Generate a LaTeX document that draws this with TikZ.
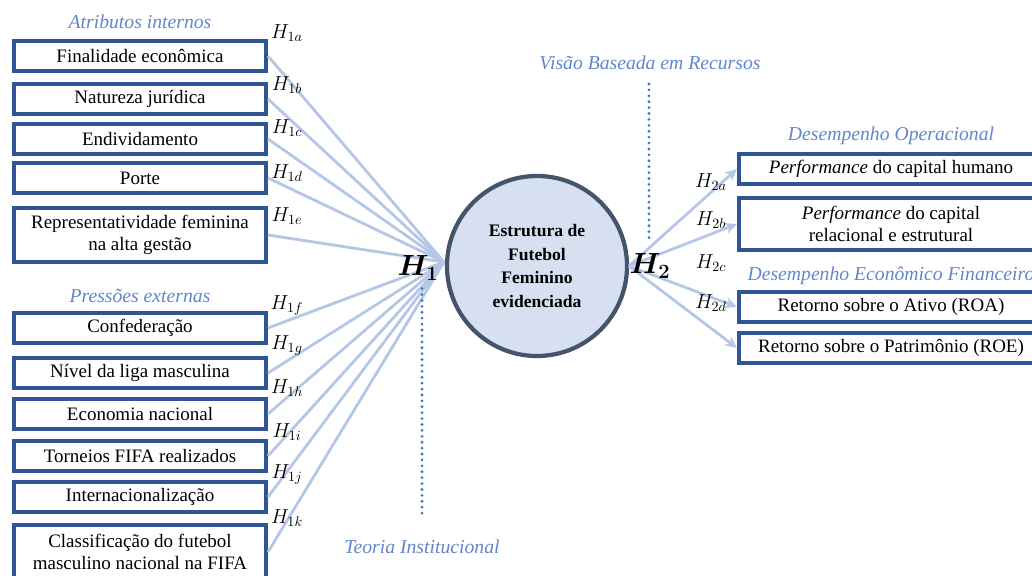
\documentclass[tikz,border=0pt]{standalone}
\usepackage{fontspec}
\setmainfont{Liberation Serif}
\usepackage{amsmath,amssymb}
\usepackage{xcolor}
\usetikzlibrary{arrows.meta,positioning}
\definecolor{boxblue}{HTML}{2F5597}
\definecolor{linkblue}{HTML}{B4C7E7}
\definecolor{headblue}{HTML}{4472C4}
\definecolor{circfill}{HTML}{D6E0F0}
\definecolor{circline}{HTML}{44546A}
\tikzset{
  var/.style={rectangle, draw=boxblue, line width=2.8pt, fill=white, align=center,
    minimum width=6.3cm, minimum height=0.75cm, inner sep=1pt,
    font=\fontsize{13.5}{16}\selectfont},
  var2/.style={var, minimum height=1.35cm},
  outv/.style={var, minimum width=7.6cm},
  group/.style={font=\fontsize{14}{16}\selectfont\itshape, text=headblue!85},
  hyp/.style={font=\fontsize{14.5}{16}\selectfont, inner sep=0pt},
  bighyp/.style={font=\fontsize{22}{24}\selectfont, inner sep=0pt},
  link/.style={draw=linkblue, line width=2pt},
  linkarr/.style={link, -{Stealth[length=3mm,width=2.8mm]}},
  theory/.style={draw=headblue, line width=2.2pt, line cap=round, dash pattern=on 0pt off 4.2pt},
}
\begin{document}
\begin{tikzpicture}[x=0.025cm, y=-0.025cm]
  \useasboundingbox (0,0) rectangle (1032,576);
  \clip (0,0) rectangle (1032,576);
  % internal attributes
  \node[group] (atr) at (140,22) {Atributos internos};
  \node[var] (fin) at (140,56) {Finalidade econômica};
  \node[var] (nat) at (140,99) {Natureza jurídica};
  \node[var] (end) at (140,139) {Endividamento};
  \node[var] (por) at (140,178) {Porte};
  \node[var2] (rep) at (140,235) {Representatividade feminina\\na alta gestão};
  % external pressures
  \node[group] (pre) at (140,296) {Pressões externas};
  \node[var] (con) at (140,328) {Confederação};
  \node[var] (niv) at (140,373) {Nível da liga masculina};
  \node[var] (eco) at (140,414) {Economia nacional};
  \node[var] (tor) at (140,456) {Torneios FIFA realizados};
  \node[var] (int) at (140,497) {Internacionalização};
  \node[var2] (cla) at (140,552) {Classificação do futebol\\masculino nacional na FIFA};
  % central construct
  \node[circle, draw=circline, line width=3pt, fill=circfill, minimum size=4.5cm,
    align=center, font=\fontsize{12.5}{17}\selectfont\bfseries] (est) at (537,266)
    {Estrutura de\\Futebol\\Feminino\\evidenciada};
  \coordinate (conv) at (444,262);
  \coordinate (src) at (629,266);
  % performance
  \node[group] (dop) at (891,136) {Desempenho Operacional};
  \node[outv] (phu) at (891,169) {\textit{Performance} do capital humano};
  \node[outv, minimum height=1.3cm] (prel) at (891,224) {\textit{Performance} do capital\\relacional e estrutural};
  \node[group] (def) at (891,276) {Desempenho Econômico Financeiro};
  \node[outv] (roa) at (891,307) {Retorno sobre o Ativo (ROA)};
  \node[outv] (roe) at (891,348) {Retorno sobre o Patrimônio (ROE)};
  % links
  \foreach \v in {fin,nat,end,por,rep,con,niv,eco,tor,int,cla}
    \draw[link] (\v.east) -- (conv);
  \draw[linkarr] (src) -- (phu.west);
  \draw[linkarr] (src) -- (prel.west);
  \draw[linkarr] (src) -- (roa.west);
  \draw[linkarr] (src) -- (roe.west);
  % theories
  \node[group] (vbr) at (650,63) {Visão Baseada em Recursos};
  \coordinate (vbrend) at (649,240);
  \draw[theory] (649,84) -- (vbrend);
  \node[group] (ti) at (422,547) {Teoria Institucional};
  \draw[theory] (ti.north) ++(0,-22) -- (422,288);
  % hypotheses
  \node[bighyp] (h1) at (418,268) {$\boldsymbol{H_1}$};
  \node[bighyp] (h2) at (650,266) {$\boldsymbol{H_2}$};
  \node[hyp] at (287,33) {$H_{1a}$};
  \node[hyp] at (287,85) {$H_{1b}$};
  \node[hyp] at (287,128) {$H_{1c}$};
  \node[hyp] at (287,173) {$H_{1d}$};
  \node[hyp] at (287,216) {$H_{1e}$};
  \node[hyp] at (287,305) {$H_{1f}$};
  \node[hyp] at (287,345) {$H_{1g}$};
  \node[hyp] at (287,388) {$H_{1h}$};
  \node[hyp] at (287,432) {$H_{1i}$};
  \node[hyp] at (287,474) {$H_{1j}$};
  \node[hyp] at (287,518) {$H_{1k}$};
  \node[hyp] at (711,182) {$H_{2a}$};
  \node[hyp] at (711,220) {$H_{2b}$};
  \node[hyp] at (711,263) {$H_{2c}$};
  \node[hyp] at (711,303) {$H_{2d}$};
\end{tikzpicture}
\end{document}
